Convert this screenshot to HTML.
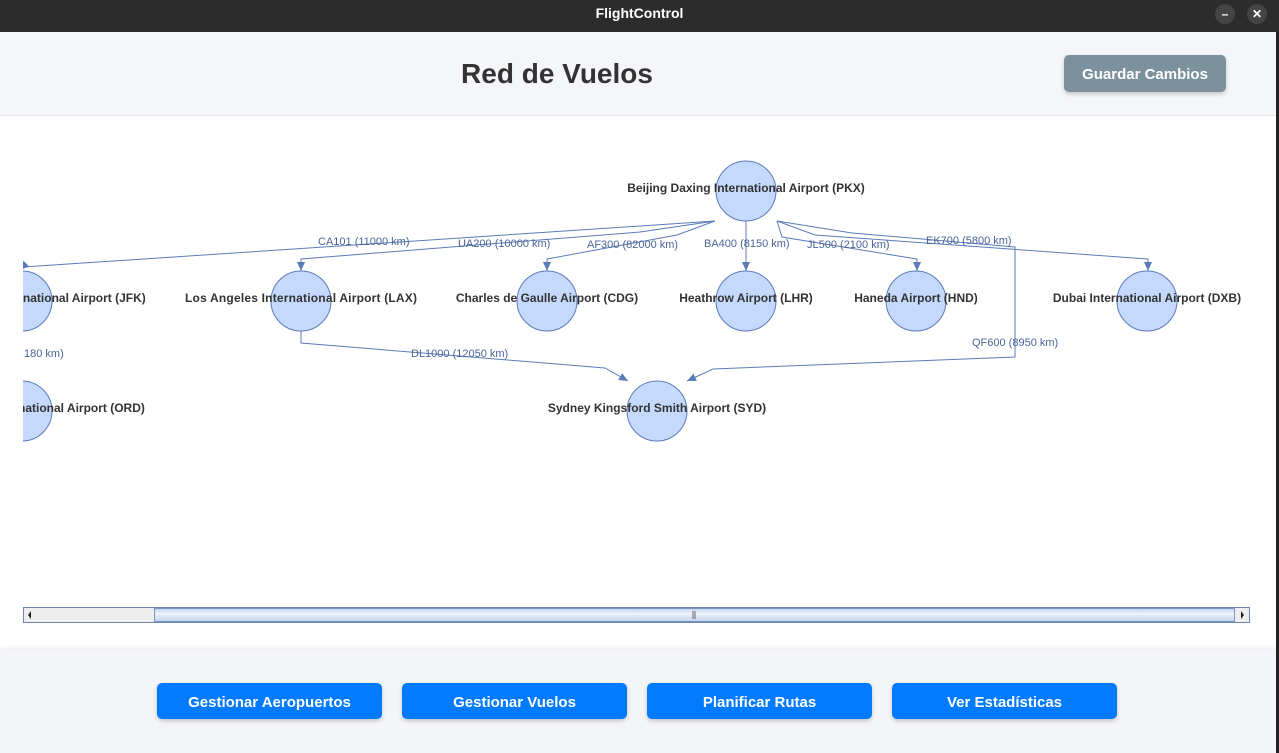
<!DOCTYPE html>
<html><head><meta charset="utf-8"><style>
body{margin:0;width:1279px;height:753px;overflow:hidden;font-family:"Liberation Sans",sans-serif;background:#fff;position:relative}
.tb{position:absolute;left:0;top:0;width:1279px;height:32px;background:#2c2c2c;color:#fff;font-weight:bold;font-size:14px;text-align:center;line-height:26px}
.wb{position:absolute;top:4px;width:20px;height:20px;border-radius:50%;background:#444;color:#fff;font-size:12px;text-align:center;line-height:20px}
.hd{position:absolute;left:0;top:32px;width:1276px;height:83px;background:#f5f6fa;border-bottom:1px solid #e4e6ec}
.title{position:absolute;left:0;width:1114px;top:26px;text-align:center;font-size:28px;font-weight:bold;color:#333}
.gb{position:absolute;left:1064px;top:23px;width:162px;height:37px;background:#7b919d;border-radius:5px;color:#fff;font-weight:bold;font-size:15px;text-align:center;line-height:39px;box-shadow:0 2px 4px rgba(0,0,0,.2)}
.bt{position:absolute;left:0;top:650px;width:1276px;height:103px;background:#f4f5f9;box-shadow:0 -2px 4px rgba(0,0,0,.08)}
.b{position:absolute;top:33px;width:225px;height:36px;background:#007bff;border-radius:5px;color:#fff;font-weight:bold;font-size:15px;text-align:center;line-height:39px;box-shadow:0 2px 4px rgba(0,0,0,.2)}
.edge{position:absolute;right:0;top:32px;width:3px;height:721px;background:#222}
</style></head><body>
<div class="tb">FlightControl<div class="wb" style="left:1215px">–</div><div class="wb" style="left:1247px">✕</div></div>
<div class="hd"><div class="title">Red de Vuelos</div><div class="gb">Guardar Cambios</div></div>
<svg style="position:absolute;left:0;top:0" width="1276" height="650">
<defs><marker id="a" markerWidth="10" markerHeight="10" refX="9" refY="5" orient="auto" markerUnits="userSpaceOnUse"><path d="M0,1 L9,5 L0,9 Z" fill="#5b7bb8"/></marker>
<linearGradient id="g" x1="0" y1="0" x2="0" y2="1"><stop offset="0" stop-color="#c2d2ec"/><stop offset="0.4" stop-color="#eef3fb"/><stop offset="1" stop-color="#c2d2ec"/></linearGradient>
<clipPath id="c"><rect x="23" y="116" width="1253" height="490"/></clipPath></defs>
<g clip-path="url(#c)" fill="none" stroke="#5b7bb8" stroke-width="1">
<polyline points="715,221 23,267 20,270" marker-end="url(#a)"/>
<polyline points="715,221 640,232 301,259 301,271" marker-end="url(#a)"/>
<polyline points="715,221 677,235 547,259 547,271" marker-end="url(#a)"/>
<polyline points="746,221 746,271" marker-end="url(#a)"/>
<polyline points="777,221 782,237 917,259 917,271" marker-end="url(#a)"/>
<polyline points="777,221 815,235 1148,259 1148,271" marker-end="url(#a)"/>
<polyline points="777,221 852,233 1015,247 1015,357 713,369 687,381" marker-end="url(#a)"/>
<polyline points="301,331 301,343 605,368 628,381" marker-end="url(#a)"/>
<polyline points="10,372 21,378" marker-end="url(#a)"/>
<g fill="#c4d9fc" stroke="#5b7bb8">
<ellipse cx="746" cy="191" rx="30" ry="30"/>
<ellipse cx="22" cy="301" rx="30" ry="30"/>
<ellipse cx="301" cy="301" rx="30" ry="30"/>
<ellipse cx="547" cy="301" rx="30" ry="30"/>
<ellipse cx="746" cy="301" rx="30" ry="30"/>
<ellipse cx="916" cy="301" rx="30" ry="30"/>
<ellipse cx="1147" cy="301" rx="30" ry="30"/>
<ellipse cx="22" cy="411" rx="30" ry="30"/>
<ellipse cx="657" cy="411" rx="30" ry="30"/>
</g>
<g stroke="none" fill="#4a6498" font-size="11">
<text x="318" y="245">CA101 (11000 km)</text>
<text x="458" y="247">UA200 (10000 km)</text>
<text x="587" y="248">AF300 (82000 km)</text>
<text x="704" y="247">BA400 (8150 km)</text>
<text x="807" y="248">JL500 (2100 km)</text>
<text x="926" y="244">EK700 (5800 km)</text>
<text x="972" y="346">QF600 (8950 km)</text>
<text x="411" y="357">DL1000 (12050 km)</text>
<text x="24" y="357">180 km)</text>
</g>
<g stroke="none" fill="#333" font-size="12" font-weight="bold" text-anchor="middle">
<text x="746" y="192">Beijing Daxing International Airport (PKX)</text>
<text x="22" y="302">John F. Kennedy International Airport (JFK)</text>
<text x="301" y="302" textLength="232">Los Angeles International Airport (LAX)</text>
<text x="547" y="302">Charles de Gaulle Airport (CDG)</text>
<text x="746" y="302">Heathrow Airport (LHR)</text>
<text x="916" y="302">Haneda Airport (HND)</text>
<text x="1147" y="302">Dubai International Airport (DXB)</text>
<text x="22" y="412">Chicago O'Hare International Airport (ORD)</text>
<text x="657" y="412">Sydney Kingsford Smith Airport (SYD)</text>
</g>
</g>
<rect x="23.5" y="607.5" width="1226" height="15" fill="#eee" stroke="#6e86b4"/>
<rect x="154.5" y="608.5" width="1080" height="13" fill="url(#g)" stroke="#7c94c2"/>
<line x1="693" y1="611" x2="693" y2="619" stroke="#666"/>
<line x1="695" y1="611" x2="695" y2="619" stroke="#666"/>
<path d="M31,611 L28,615 L31,619 Z M1241,611 L1244,615 L1241,619 Z" fill="#222"/>
</svg>
<div class="bt">
<div class="b" style="left:157px">Gestionar Aeropuertos</div>
<div class="b" style="left:402px">Gestionar Vuelos</div>
<div class="b" style="left:647px">Planificar Rutas</div>
<div class="b" style="left:892px">Ver Estadísticas</div>
</div>
<div class="edge"></div>
</body></html>
